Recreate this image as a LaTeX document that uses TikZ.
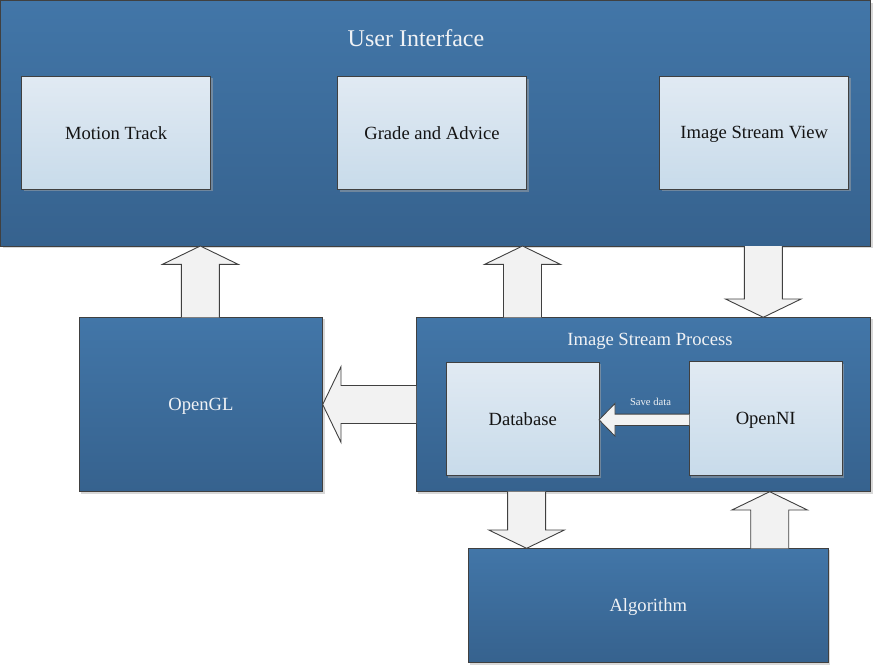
\documentclass[tikz,border=0pt]{standalone}
\usepackage{fontspec}
\setmainfont{Liberation Serif}
\usepackage{color}
\usepackage{tikz}
\usetikzlibrary{calc,shadows}
\definecolor{bluetop}{RGB}{66,118,168}
\definecolor{bluebot}{RGB}{54,98,142}
\definecolor{lighttop}{RGB}{225,234,243}
\definecolor{lightbot}{RGB}{200,219,234}
\definecolor{edgegray}{RGB}{64,64,64}
\definecolor{arrowfill}{RGB}{242,242,242}
\definecolor{paletext}{RGB}{240,242,245}

\begin{document}
\begin{tikzpicture}[x=1pt,y=-1pt,
   outbox/.style={rectangle,draw=edgegray,line width=1pt,top color=bluetop,bottom color=bluebot,inner sep=0pt,outer sep=0pt,
      text=paletext,text depth=0pt,font=\fontsize{18.6}{22}\selectfont,drop shadow={shadow xshift=2pt,shadow yshift=-2pt,fill=gray!60,opacity=0.5}},
   inbox/.style={rectangle,draw=edgegray,line width=1pt,top color=lighttop,bottom color=lightbot,inner sep=0pt,outer sep=0pt,
      text=black!92,text depth=0pt,font=\fontsize{18.6}{22}\selectfont,minimum width=189pt,minimum height=113pt,
      drop shadow={shadow xshift=2pt,shadow yshift=-2pt,fill=gray!70,opacity=0.5}},
   title/.style={anchor=base,text=paletext,font=\fontsize{18.6}{22}\selectfont},
   barrow/.style n args={3}{draw=edgegray,fill=arrowfill,line width=0.9pt,line join=miter,
      to path={($(\tikztostart)!#1!90:(\tikztotarget)$)
         -- ($($(\tikztotarget)!#3!(\tikztostart)$)!#1!-90:(\tikztostart)$)
         -- ($($(\tikztotarget)!#3!(\tikztostart)$)!#2!-90:(\tikztostart)$)
         -- (\tikztotarget)
         -- ($($(\tikztotarget)!#3!(\tikztostart)$)!#2!90:(\tikztostart)$)
         -- ($($(\tikztotarget)!#3!(\tikztostart)$)!#1!90:(\tikztostart)$)
         -- ($(\tikztostart)!#1!-90:(\tikztotarget)$)}},
   bigarrow/.style={barrow={19pt}{37.8pt}{18.3pt}}]
   \useasboundingbox (0,0) rectangle (873,665);
   \path (435.5,123.25) node (ui) [outbox,minimum width=870pt,minimum height=245.5pt] {}
         (201,404.5) node (gl) [outbox,minimum width=243.4pt,minimum height=174.4pt] {OpenGL}
         (643.4,404.5) node (isp) [outbox,minimum width=454.7pt,minimum height=174.4pt] {}
         (648.3,605.5) node (algo) [outbox,minimum width=360pt,minimum height=114.4pt] {Algorithm};
   \node (uititle) [title,font=\fontsize{24}{28}\selectfont] at (416,46) {User Interface};
   \node (isptitle) [title] at (650,345) {Image Stream Process};
   \path (116.2,132.8) node (mt) [inbox] {Motion Track}
         (432,133) node (ga) [inbox] {Grade and Advice}
         (754.2,132.7) node (isv) [inbox] {Image Stream View}
         (522.7,419) node (db) [inbox,minimum width=152.7pt,minimum height=113.4pt] {Database}
         (765.7,418.7) node (ni) [inbox,minimum width=152.7pt,minimum height=114pt] {OpenNI};
   \node (save) [title,font=\fontsize{10.6}{12}\selectfont] at (650.5,405) {Save data};
   \draw [bigarrow] (200.3,0 |- gl.north) to (200.3,0 |- ui.south);
   \draw [bigarrow] (522.5,0 |- isp.north) to (522.5,0 |- ui.south);
   \draw [bigarrow] (763.3,0 |- ui.south) to (763.3,0 |- isp.north);
   \draw [bigarrow] (isp.west |- 0,404.5) to (gl.east |- 0,404.5);
   \draw [bigarrow] (526.6,0 |- isp.south) to (526.6,0 |- algo.north);
   \draw [bigarrow] (769.7,0 |- algo.north) to (769.7,0 |- isp.south);
   \draw [barrow={5.7pt}{16.4pt}{16pt},line width=0.8pt] (ni.west |- 0,419.8) to (db.east |- 0,419.8);
\end{tikzpicture}
\end{document}
